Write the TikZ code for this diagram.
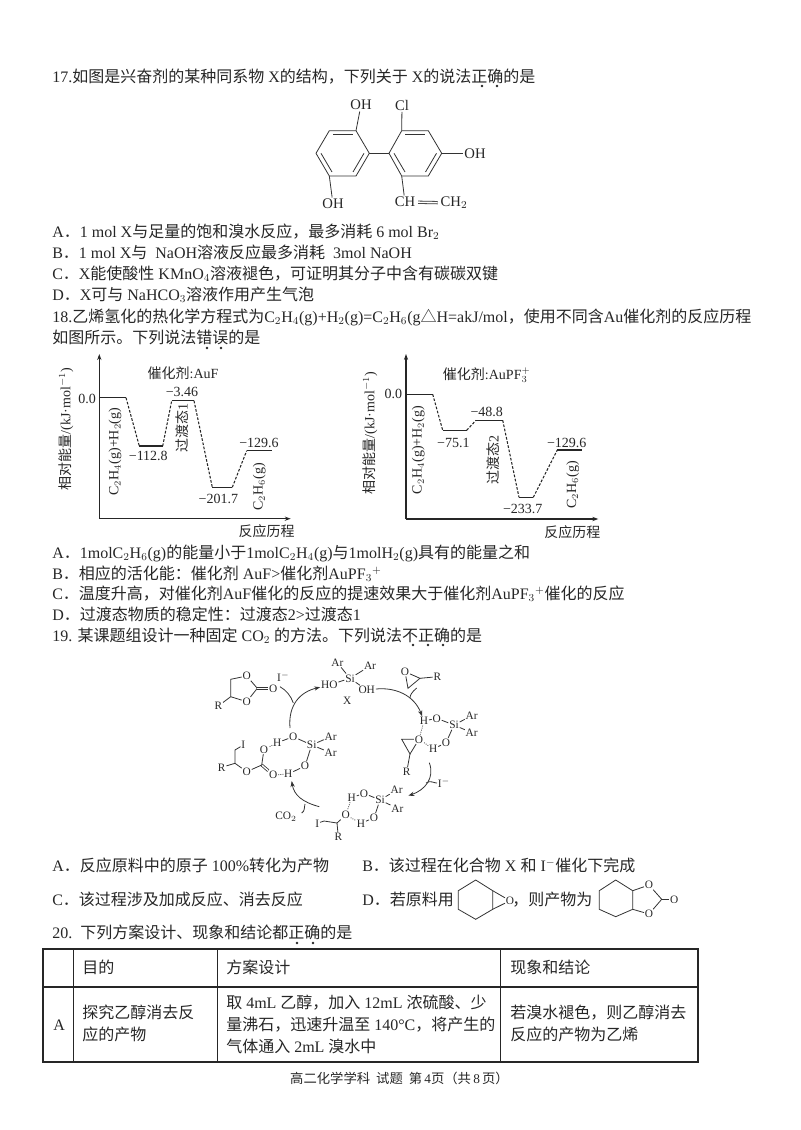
\documentclass[tikz,border=0pt]{standalone}
\usepackage{amsmath}
\usepackage{fontspec}
\setmainfont{Liberation Serif}
\newfontfamily\cjk{Noto Sans CJK SC}
\newcommand{\zh}[1]{{\cjk #1}}
\usetikzlibrary{arrows.meta, positioning}

\begin{document}
\begin{tikzpicture}[>={Stealth[length=4.5pt,width=3.2pt]}, x=0.75pt, y=-0.75pt]
    \tikzstyle{txt}=[anchor=base west, inner sep=0pt, yshift=-1.1pt, text=black!85, font=\fontsize{12}{14}\selectfont]
    \tikzstyle{lab}=[inner sep=0pt, text=black!85, font=\fontsize{10.5}{12}\selectfont]
    \tikzstyle{big}=[inner sep=1pt, text=black!85, font=\fontsize{11}{12}\selectfont]
    \tikzstyle{atom}=[inner sep=0.5pt, text=black!85, font=\fontsize{8.5}{9}\selectfont]
    \tikzstyle{bond}=[line width=0.6pt, black!80]
    \tikzstyle{hb}=[line width=0.6pt, black!80, densely dotted]
    \tikzstyle{lvl}=[line width=1pt, black!85]
    \tikzstyle{path}=[line width=0.8pt, black!85, dash pattern=on 2pt off 1.2pt]
    \tikzstyle{axis}=[line width=0.9pt, black!85, ->]
    \tikzstyle{cyc}=[line width=0.6pt, black!80, ->]
    \tikzstyle{emdot}=[circle, fill, inner sep=0.7pt]
    \useasboundingbox (0,0) rectangle (800,1130);

    % question 17
    \node[txt] (q17) at (52,81) {17.\zh{如图是兴奋剂的某种同系物}\ X\zh{的结构，下列关于}\ X\zh{的说法正确的是}};
    \node[txt] (q17a) at (52,236) {A\zh{．}1 mol X\zh{与足量的饱和溴水反应，最多消耗}\ 6 mol Br$_2$};
    \node[txt] (q17b) at (52,257) {B\zh{．}1 mol X\zh{与}\ \ NaOH\zh{溶液反应最多消耗}\ \ 3mol NaOH};
    \node[txt] (q17c) at (52,278) {C\zh{．}X\zh{能使酸性} KMnO$_4$\zh{溶液褪色，可证明其分子中含有碳碳双键}};
    \node[txt] (q17d) at (52,299) {D\zh{．}X\zh{可与} NaHCO$_3$\zh{溶液作用产生气泡}};

    % biphenyl
    \coordinate (l1) at (329.3,130.7);
    \coordinate (l2) at (356,130.7);
    \coordinate (l3) at (369.3,153.3);
    \coordinate (l4) at (356,176);
    \coordinate (l5) at (329.3,176);
    \coordinate (l6) at (316,153.3);
    \coordinate (r1) at (401.7,130.7);
    \coordinate (r2) at (428.3,130.7);
    \coordinate (r3) at (441.7,153.3);
    \coordinate (r4) at (428.3,176);
    \coordinate (r5) at (401.7,176);
    \coordinate (r6) at (389,153.3);
    \node[big] (oh1) at (361,105) {OH};
    \node[big] (cl) at (402,105) {Cl};
    \node[big] (oh2) at (475,153.3) {OH};
    \node[big] (oh3) at (333,204) {OH};
    \node[big] (ch) at (405,202) {CH};
    \node[big] (ch2) at (454,203) {CH$_2$};
    \draw[bond] (l1) -- (l2) -- (l3) -- (l4) -- (l5) -- (l6) -- cycle;
    \draw[bond] (r1) -- (r2) -- (r3) -- (r4) -- (r5) -- (r6) -- cycle;
    \draw[bond] (l3) -- (r6);
    \draw[bond] (l2) -- (oh1);
    \draw[bond] (r1) -- (cl);
    \draw[bond] (r3) -- (oh2);
    \draw[bond] (l5) -- (oh3);
    \draw[bond] (r5) -- (ch);
    \draw[bond, double, double distance=1.2pt, shorten <=1pt, shorten >=1pt] (ch) -- (ch2);
    \draw[bond] (333,134) -- (353,134);
    \draw[bond] (364,153.3) -- (353,172);
    \draw[bond] (321,153.3) -- (332,172);
    \draw[bond] (405,134) -- (425,134);
    \draw[bond] (436.5,153.3) -- (425.5,172);
    \draw[bond] (394,153.3) -- (405,172);

    % question 18
    \node[txt] (q18) at (52,321) {18.\zh{乙烯氢化的热化学方程式为}C$_2$H$_4$(g)+H$_2$(g)=C$_2$H$_6$(g\zh{△}H=akJ/mol\zh{，使用不同含}Au\zh{催化剂的反应历程}};
    \node[txt] (q18x) at (52,342) {\zh{如图所示。下列说法错误的是}};

    % first profile
    \coordinate (ao) at (99.3,518.7);
    \coordinate (ay) at (99.3,354);
    \coordinate (ax) at (290.7,518.7);
    \draw[axis] (ao) -- (ay);
    \draw[axis] (ao) -- (ax);
    \foreach \name/\xa/\xb/\yy in {a0/100/126/397.7, a1/139.3/162.7/446, a2/171.7/194/400.7, a3/212.3/232.3/487.3, a4/246.7/271.7/450.7} {
        \coordinate (\name l) at (\xa,\yy);
        \coordinate (\name r) at (\xb,\yy);
        \draw[lvl] (\name l) -- (\name r);
    }
    \draw[path] (a0r) -- (a1l);
    \draw[path] (a1r) -- (a2l);
    \draw[path] (a2r) -- (a3l);
    \draw[path] (a3r) -- (a4l);
    \node[lab] (a0t) at (87,399) {0.0};
    \node[lab] (acat) at (183,373) {\zh{催化剂}:AuF};
    \node[lab] (a2t) at (182,391.7) {−3.46};
    \node[lab] (a1t) at (148.3,455.7) {−112.8};
    \node[lab] (a3t) at (218.3,499) {−201.7};
    \node[lab] (a4t) at (259,443.3) {−129.6};
    \node[lab, rotate=90] (a0s) at (115,451.7) {C$_2$H$_4$(g)+H$_2$(g)};
    \node[lab, rotate=90] (a2s) at (182.3,428) {\zh{过渡态}1};
    \node[lab, rotate=90] (a4s) at (259.3,486.7) {C$_2$H$_6$(g)};
    \node[lab] (axl) at (266.7,531) {\zh{反应历程}};
    \node[lab, rotate=90] (ayl) at (66,429) {\zh{相对能量}/(kJ·mol$^{-1}$)};

    % second profile
    \coordinate (bo) at (406,519);
    \coordinate (by) at (406,354);
    \coordinate (bx) at (598.3,519);
    \draw[axis] (bo) -- (by);
    \draw[axis] (bo) -- (bx);
    \foreach \name/\xa/\xb/\yy in {b0/406/432.7/394.3, b1/442.7/466.7/430.3, b2/476/502.7/420.3, b3/519/533.3/497.3, b4/557.3/581.7/450} {
        \coordinate (\name l) at (\xa,\yy);
        \coordinate (\name r) at (\xb,\yy);
        \draw[lvl] (\name l) -- (\name r);
    }
    \draw[path] (b0r) -- (b1l);
    \draw[path] (b1r) -- (b2l);
    \draw[path] (b2r) -- (b3l);
    \draw[path] (b3r) -- (b4l);
    \node[lab] (b0t) at (393.3,394.3) {0.0};
    \node[lab] (bcat) at (486.7,375) {\zh{催化剂}:AuPF$_3^+$};
    \node[lab] (b2t) at (486.7,411.7) {−48.8};
    \node[lab] (b1t) at (453.3,443.3) {−75.1};
    \node[lab] (b3t) at (522.7,509.3) {−233.7};
    \node[lab] (b4t) at (566.7,443.3) {−129.6};
    \node[lab, rotate=90] (b0s) at (418.3,450) {C$_2$H$_4$(g)+H$_2$(g)};
    \node[lab, rotate=90] (b2s) at (493.3,460) {\zh{过渡态}2};
    \node[lab, rotate=90] (b4s) at (572.7,485) {C$_2$H$_6$(g)};
    \node[lab] (bxl) at (572.3,531.7) {\zh{反应历程}};
    \node[lab, rotate=90] (byl) at (370,433) {\zh{相对能量}/(kJ·mol$^{-1}$)};

    \node[txt] (q18a) at (52,557) {A\zh{．}1molC$_2$H$_6$(g)\zh{的能量小于}1molC$_2$H$_4$(g)\zh{与}1molH$_2$(g)\zh{具有的能量之和}};
    \node[txt] (q18b) at (52,578) {B\zh{．相应的活化能：催化剂} AuF>\zh{催化剂}AuPF$_3$$^+$};
    \node[txt] (q18c) at (52,598) {C\zh{．温度升高，对催化剂}AuF\zh{催化的反应的提速效果大于催化剂}AuPF$_3$$^+$\zh{催化的反应}};
    \node[txt] (q18d) at (52,619) {D\zh{．过渡态物质的稳定性：过渡态}2>\zh{过渡态}1};

    % question 19
    \node[txt] (q19) at (52,640) {19. \zh{某课题组设计一种固定} CO$_2$ \zh{的方法。下列说法不正确的是}};

    % carbonate top left
    \node[atom] (co1) at (246.7,676) {O};
    \node[atom] (co2) at (246.7,701.7) {O};
    \node[atom] (co3) at (273.3,688.3) {O};
    \node[atom] (cr) at (218.3,706) {R};
    \node[atom] (ci) at (283.3,677.3) {I$^-$};
    \coordinate (cc) at (257.3,688.3);
    \coordinate (cm1) at (230.7,679.3);
    \coordinate (cm2) at (230.7,696.7);
    \draw[bond] (co1) -- (cc) -- (co2) -- (cm2) -- (cm1) -- (co1);
    \draw[bond, double, double distance=1pt] (cc) -- (co3);
    \draw[bond] (cm2) -- (cr);

    % silanediol X
    \node[atom] (xsi) at (350,678.3) {Si};
    \node[atom] (xar1) at (337.3,662.7) {Ar};
    \node[atom] (xar2) at (370,666) {Ar};
    \node[atom] (xho) at (329.3,685) {HO};
    \node[atom] (xoh) at (366.7,690) {OH};
    \node[atom] (xlab) at (347.3,700.7) {X};
    \foreach \n in {xar1, xar2, xho, xoh} \draw[bond] (xsi) -- (\n);

    % epoxide top right
    \node[atom] (eo) at (405,671.7) {O};
    \node[atom] (er) at (437.3,676.7) {R};
    \coordinate (ec1) at (420,678.3);
    \coordinate (ec2) at (408,688.3);
    \draw[bond] (eo) -- (ec1) -- (ec2) -- (eo);
    \draw[bond] (ec1) -- (er);

    % right complex
    \node[atom] (rh1) at (424,721) {H};
    \node[atom] (ro1) at (436.7,718.3) {O};
    \node[atom] (rsi) at (454,725) {Si};
    \node[atom] (rar1) at (471.7,715.7) {Ar};
    \node[atom] (rar2) at (471.7,732.7) {Ar};
    \node[atom] (ro2) at (446,742.7) {O};
    \node[atom] (rh2) at (433.3,749) {H};
    \node[atom] (ro3) at (419,739.3) {O};
    \node[atom] (rr) at (406.7,771.7) {R};
    \coordinate (rc1) at (401.7,739.3);
    \coordinate (rc2) at (410,754);
    \draw[bond] (rh1) -- (ro1) -- (rsi) -- (ro2) -- (rh2);
    \draw[bond] (rsi) -- (rar1);
    \draw[bond] (rsi) -- (rar2);
    \draw[bond] (ro3) -- (rc1) -- (rc2) -- (ro3);
    \draw[bond] (rc2) -- (rr);
    \draw[hb] (rh1) -- (ro3);
    \draw[hb] (ro3) -- (rh2);

    % lower complex
    \node[atom] (dh1) at (351.7,797.7) {H};
    \node[atom] (do1) at (364,793.3) {O};
    \node[atom] (dsi) at (380,800) {Si};
    \node[atom] (dar1) at (396.7,790) {Ar};
    \node[atom] (dar2) at (397.3,808.3) {Ar};
    \node[atom] (do2) at (374,817.7) {O};
    \node[atom] (dh2) at (361,823.3) {H};
    \node[atom] (do3) at (345.7,815) {O};
    \node[atom] (di) at (317.3,823.3) {I};
    \node[atom] (dr) at (338.3,836.7) {R};
    \coordinate (dc1) at (324,821);
    \coordinate (dc2) at (337,823);
    \draw[bond] (dh1) -- (do1) -- (dsi) -- (do2) -- (dh2);
    \draw[bond] (dsi) -- (dar1);
    \draw[bond] (dsi) -- (dar2);
    \draw[bond] (di) -- (dc1) -- (dc2) -- (do3);
    \draw[bond] (dc2) -- (dr);
    \draw[hb] (dh1) -- (do3);
    \draw[hb] (do3) -- (dh2);

    % left complex
    \node[atom] (lo1) at (293.3,736.7) {O};
    \node[atom] (lh1) at (277.3,742.7) {H};
    \node[atom] (lsi) at (311.7,745) {Si};
    \node[atom] (lar1) at (330.7,736.7) {Ar};
    \node[atom] (lar2) at (330.7,752.7) {Ar};
    \node[atom] (lo2) at (305,766) {O};
    \node[atom] (lh2) at (288.3,774) {H};
    \node[atom] (lo3) at (273.3,775) {O};
    \node[atom] (lo4) at (264,749.3) {O};
    \node[atom] (lo5) at (246.7,771.7) {O};
    \node[atom] (li) at (243.3,745) {I};
    \node[atom] (lr) at (221.7,767.3) {R};
    \coordinate (lc1) at (261.7,765);
    \coordinate (lc2) at (235,763.3);
    \coordinate (lc3) at (235,750);
    \draw[bond] (lh1) -- (lo1) -- (lsi) -- (lo2) -- (lh2);
    \draw[bond] (lsi) -- (lar1);
    \draw[bond] (lsi) -- (lar2);
    \draw[bond, double, double distance=1pt] (lo3) -- (lc1);
    \draw[bond] (lo4) -- (lc1) -- (lo5) -- (lc2) -- (lc3) -- (li);
    \draw[bond] (lc2) -- (lr);
    \draw[hb] (lh1) -- (lo4);
    \draw[hb] (lo3) -- (lh2);

    % cycle arrows
    \node[atom] (ii) at (444,783.3) {I$^-$};
    \node[atom] (co) at (286,816.7) {CO$_2$};
    \coordinate (s3) at (429.3,762.7);
    \coordinate (e3) at (408.3,795.7);
    \coordinate (s4) at (319.3,806.7);
    \coordinate (e4) at (291.7,781);
    \coordinate (e1) at (290,728);
    \coordinate (m1) at (293.3,703);
    \coordinate (m2) at (410,698);
    \coordinate (m3) at (426,783);
    \coordinate (m4) at (305,804);
    \coordinate (s1) at (280,686.7);
    \coordinate (s2) at (416.7,688);
    \coordinate (s5) at (301.7,813);
    \draw[cyc] (e1) .. controls (288,705) and (300,692) .. (xho);
    \draw[cyc] (xoh) .. controls (395,687) and (414,695) .. (rh1);
    \draw[cyc] (s3) .. controls (435,778) and (425,790) .. (e3);
    \draw[cyc] (s4) .. controls (302,802) and (294,795) .. (e4);
    \draw[bond] (s1) .. controls (286,690) and (291,696) .. (m1);
    \draw[bond] (s2) .. controls (412,692) and (410,695) .. (m2);
    \draw[bond] (ii) .. controls (434,783) and (430,780) .. (m3);
    \draw[bond] (s5) .. controls (305,811) and (304,808) .. (m4);

    \node[txt] (q19a) at (52,870) {A\zh{．反应原料中的原子} 100\%\zh{转化为产物}};
    \node[txt] (q19b) at (362,870) {B\zh{．该过程在化合物} X \zh{和} I$^-$\zh{催化下完成}};
    \node[txt] (q19c) at (52,904) {C\zh{．该过程涉及加成反应、消去反应}};
    \node[txt] (q19d) at (362,904) {D\zh{．若原料用}};

    % cyclohexene oxide
    \coordinate (h1) at (458.3,890.7);
    \coordinate (h2) at (475.7,880);
    \coordinate (h3) at (492.7,890.7);
    \coordinate (h4) at (492.7,909.3);
    \coordinate (h5) at (475.7,919.3);
    \coordinate (h6) at (458.3,909.3);
    \node[atom] (ho) at (510,900.7) {O};
    \draw[bond] (h1) -- (h2) -- (h3) -- (h4) -- (h5) -- (h6) -- cycle;
    \draw[bond] (h3) -- (ho) -- (h4);
    \node[txt] (q19e) at (512,904) {\zh{，则产物为}};

    % fused carbonate
    \coordinate (k1) at (599.3,890.7);
    \coordinate (k2) at (615.7,880);
    \coordinate (k3) at (632.7,890.7);
    \coordinate (k4) at (632.7,909.3);
    \coordinate (k5) at (615.7,916.7);
    \coordinate (k6) at (599.3,909.3);
    \coordinate (kc) at (661.7,899.3);
    \node[atom] (ko1) at (649,885) {O};
    \node[atom] (ko2) at (649,914) {O};
    \node[atom] (ko3) at (674.3,899.3) {O};
    \draw[bond] (k1) -- (k2) -- (k3) -- (k4) -- (k5) -- (k6) -- cycle;
    \draw[bond] (k3) -- (ko1) -- (kc) -- (ko2) -- (k4);
    \draw[bond] (kc) -- (ko3);

    % question 20
    \node[txt] (q20) at (52,937.5) {20.\ \ \zh{下列方案设计、现象和结论都正确的是}};
    \coordinate (t1) at (43,949);
    \coordinate (t2) at (698,1062);
    \draw[line width=0.9pt, black!85] (t1) rectangle (t2);
    \draw[line width=0.9pt, black!85] (43,987) -- (698,987);
    \foreach \x in {73, 217, 500} \draw[line width=0.7pt, black!85] (\x,949) -- (\x,1062);
    \node[txt] (h1t) at (82,972) {\zh{目的}};
    \node[txt] (h2t) at (226,972) {\zh{方案设计}};
    \node[txt] (h3t) at (510,972) {\zh{现象和结论}};
    \node[txt] (ra) at (53,1029) {A};
    \node[txt] (c1a) at (82,1017) {\zh{探究乙醇消去反}};
    \node[txt] (c1b) at (82,1039) {\zh{应的产物}};
    \node[txt] (c2a) at (226,1007) {\zh{取} 4mL \zh{乙醇，加入} 12mL \zh{浓硫酸、少}};
    \node[txt] (c2b) at (226,1029) {\zh{量沸石，迅速升温至} 140°C\zh{，将产生的}};
    \node[txt] (c2c) at (226,1051) {\zh{气体通入} 2mL \zh{溴水中}};
    \node[txt] (c3a) at (510,1017) {\zh{若溴水褪色，则乙醇消去}};
    \node[txt] (c3b) at (510,1039) {\zh{反应的产物为乙烯}};

    \node[inner sep=0pt, text=black!85, font=\fontsize{10}{12}\selectfont] (foot) at (399.5,1078) {\zh{高二化学学科\ \ 试题\ \ 第}\,4\zh{页（共}\,8\,\zh{页）}};

    % emphasis dots
    \foreach \n/\x/\y in {1/482/86, 2/497/86, 3/207/348, 4/221/348, 5/413/645, 6/428/645, 7/443/645, 8/297/943, 9/313/943}
        \node[emdot, black!85] (dot\n) at (\x,\y) {};
\end{tikzpicture}
\end{document}
